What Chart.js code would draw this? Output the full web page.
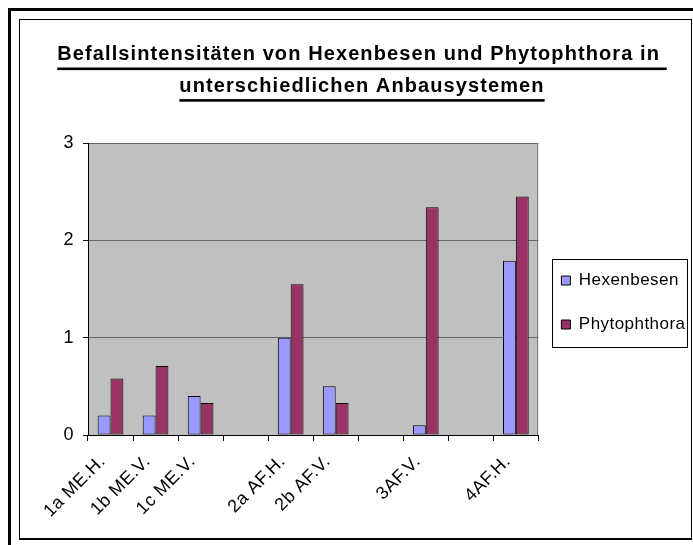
<!DOCTYPE html>
<html>
<head>
<meta charset="utf-8">
<script src="https://cdn.jsdelivr.net/npm/chart.js@4.4.1/dist/chart.umd.min.js"></script>
<style>
  html, body { margin: 0; padding: 0; background: #fff; }
  #wrap { position: relative; width: 693px; height: 545px; overflow: hidden; }
  #c { position: absolute; left: 0; top: 0; }
  .outer { position: absolute; left: 8px; top: 8px; width: 700px; height: 560px;
           border-top: 3px solid #000; border-left: 3px solid #000; pointer-events: none; }
  .inner { position: absolute; left: 19px; top: 19px; width: 671px; height: 518px;
           border: 1.5px solid #000; border-bottom-width: 2.5px; pointer-events: none; }
</style>
</head>
<body>
<div id="wrap">
  <canvas id="c" width="693" height="545"></canvas>
  <div class="outer"></div>
  <div class="inner"></div>
</div>
<script>
// ---- data ----
const titleLines = ['Befallsintensitäten von Hexenbesen und Phytophthora in ', 'unterschiedlichen Anbausystemen'];
const categories = ['1a ME.H.', '1b ME.V.', '1c ME.V.', '', '2a AF.H.', '2b AF.V.', '', '3AF.V.', '', '4AF.H.'];
const seriesNames = ['Hexenbesen', 'Phytophthora'];
const hexenbesen = [0.2, 0.2, 0.4, null, 1.0, 0.5, null, 0.1, null, 1.79];
const phytophthora = [0.58, 0.71, 0.33, null, 1.55, 0.33, null, 2.34, null, 2.45];
const yTicks = [0, 1, 2, 3];

Chart.defaults.font.family = '"Liberation Sans", Arial, sans-serif';
Chart.defaults.color = '#000';

const decor = {
  id: 'decor',
  beforeUpdate(chart) { chart.ctx.letterSpacing = '0px'; },
  beforeDraw(chart) {
    const {ctx, chartArea: a} = chart;
    ctx.letterSpacing = '0.45px';
    const t = chart.titleBlock;
    if (t && !t._wrapped) {
      const orig = t.draw;
      t.draw = function () {
        this.ctx.save();
        this.ctx.letterSpacing = '1.1px';
        orig.apply(this, arguments);
        this.ctx.restore();
      };
      t._wrapped = true;
    }
    ctx.save();
    ctx.fillStyle = '#C0C0C0';
    ctx.fillRect(a.left, a.top, a.right - a.left, a.bottom - a.top);
    ctx.restore();
  },
  beforeDatasetsDraw(chart) {
    const {ctx, chartArea: a} = chart;
    ctx.save();
    ctx.strokeStyle = '#808080';
    ctx.lineWidth = 1;
    ctx.beginPath();
    ctx.moveTo(Math.round(a.right) - 0.5, a.top);
    ctx.lineTo(Math.round(a.right) - 0.5, a.bottom);
    ctx.stroke();
    ctx.restore();
  },
  afterDraw(chart) {
    const ctx = chart.ctx;
    // title underline
    const tb = chart.titleBlock;
    const f = Chart.helpers.toFont(tb.options.font);
    const pad = tb.options.padding;
    ctx.save();
    ctx.font = f.string;
    ctx.letterSpacing = '1.1px';
    ctx.fillStyle = '#000';
    const cx = (tb.left + tb.right) / 2;
    tb.options.text.forEach((s, i) => {
      const w = ctx.measureText(s).width;
      const yc = tb.top + pad.top + f.lineHeight * (i + 0.5);
      ctx.fillRect(cx - w / 2, yc + 12.7, w, 2.6);
    });
    ctx.restore();
    // legend frame
    const hb = chart.legend.legendHitBoxes;
    if (hb && hb.length) {
      const l = hb[0].left - 9;
      const r = Math.max(...hb.map(h => h.left + h.width)) + 7.5;
      const t = hb[0].top - 13;
      const last = hb[hb.length - 1];
      const b = last.top + last.height + 10;
      ctx.save();
      ctx.strokeStyle = '#000';
      ctx.lineWidth = 1;
      ctx.strokeRect(Math.round(l) + 0.5, Math.round(t) + 0.5, Math.round(r - l), Math.round(b - t));
      ctx.restore();
    }
  }
};

new Chart(document.getElementById('c'), {
  type: 'bar',
  data: {
    labels: categories,
    datasets: [
      { label: seriesNames[0], data: hexenbesen, backgroundColor: '#9999FF',
        borderColor: '#000', borderWidth: 1, borderSkipped: false },
      { label: seriesNames[1], data: phytophthora, backgroundColor: '#993366',
        borderColor: '#000', borderWidth: 1, borderSkipped: false }
    ]
  },
  options: {
    responsive: false,
    animation: false,
    devicePixelRatio: 1,
    layout: { padding: { left: 34, right: 3, top: 0, bottom: 0 } },
    datasets: { bar: { categoryPercentage: 0.571, barPercentage: 1.0 } },
    plugins: {
      tooltip: { enabled: false },
      title: {
        display: true,
        text: titleLines,
        font: { size: 20, weight: 'bold', lineHeight: 1.58 },
        color: '#000',
        padding: { top: 39, bottom: 40.8 }
      },
      legend: {
        position: 'right',
        align: 'center',
        title: { display: true, text: '', font: { size: 10, lineHeight: 1 }, padding: { top: 54, bottom: 0 } },
        labels: {
          boxWidth: 9, boxHeight: 9, padding: 23, color: '#000',
          font: { size: 17, lineHeight: 1.235 },
          generateLabels(chart) {
            const items = Chart.defaults.plugins.legend.labels.generateLabels(chart);
            items.forEach(it => { it.text = [it.text]; it.lineWidth = 1; it.strokeStyle = '#000'; });
            return items;
          }
        }
      }
    },
    scales: {
      x: {
        offset: true,
        grid: { display: true, drawOnChartArea: false, drawTicks: true, tickLength: 6,
                tickColor: '#000', offset: true },
        border: { display: true, color: '#000', width: 1 },
        ticks: { autoSkip: false, maxRotation: 45, minRotation: 45, padding: 10, labelOffset: -8,
                 font: { size: 18 }, color: '#000' },
        afterFit(s) { s.height = 110; }
      },
      y: {
        min: 0, max: 3,
        afterBuildTicks(s) { s.ticks = yTicks.map(v => ({ value: v })); },
        grid: { color: '#666', lineWidth: 1, drawTicks: true, tickLength: 5, tickColor: '#000' },
        border: { display: true, color: '#000', width: 1 },
        ticks: { padding: 9, font: { size: 18 }, color: '#000' },
        afterFit(s) { s.width = 54; }
      }
    }
  },
  plugins: [decor]
});
</script>
</body>
</html>
